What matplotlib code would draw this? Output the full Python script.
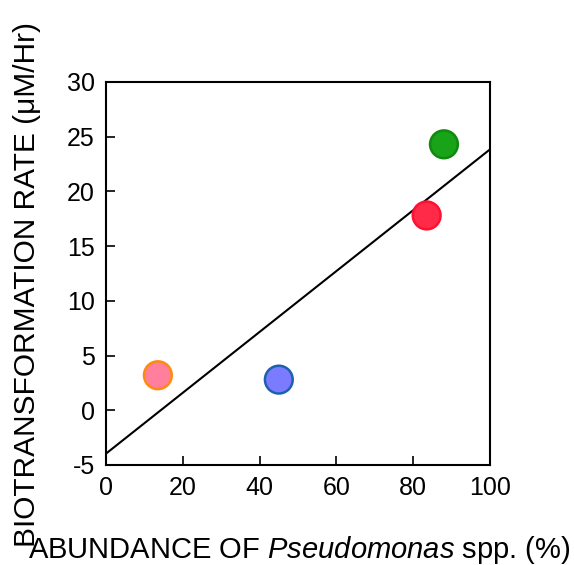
import numpy as np
import matplotlib.pyplot as plt

plt.rcParams['font.family'] = ['Liberation Sans', 'DejaVu Sans']
plt.rcParams['mathtext.fontset'] = 'custom'
plt.rcParams['mathtext.it'] = 'Liberation Sans:italic'
plt.rcParams['mathtext.rm'] = 'Liberation Sans'
plt.rcParams['axes.unicode_minus'] = False

# abundance (%) vs biotransformation rate (uM/Hr)
abundance = [13.5, 45.0, 83.5, 88.0]
rate = [3.2, 2.8, 17.8, 24.3]
face_colors = ['#ff7f9c', '#7b7bff', '#ff2a48', '#18a318']
edge_colors = ['#ff8a10', '#1f5fb0', '#ff1030', '#0f8a0f']

xticks = [0, 20, 40, 60, 80, 100]
yticks = [-5, 0, 5, 10, 15, 20, 25, 30]

fig = plt.figure(figsize=(5.74, 5.65), dpi=100)
ax = fig.add_axes([0.1847, 0.177, 0.669, 0.678])

# least-squares trend line over the full x range
slope, intercept = np.polyfit(abundance, rate, 1)
xs = np.array([0, 100])
ax.plot(xs, slope * xs + intercept, color='black', lw=1.5, zorder=2)

ax.scatter(abundance, rate, s=400, c=face_colors, edgecolors=edge_colors,
           linewidths=1.8, zorder=3)

ax.set_xlim(0, 100)
ax.set_ylim(-5, 30)
ax.set_xticks(xticks)
ax.set_yticks(yticks)
ax.tick_params(direction='in', length=6.5, width=1.2, labelsize=18)
ax.tick_params(axis='x', pad=8)
ax.tick_params(axis='y', pad=8)
for s in ax.spines.values():
    s.set_linewidth(1.5)

fig.text(0.522, 0.027, r'ABUNDANCE OF $\it{Pseudomonas}$ spp. (%)',
         ha='center', va='center', fontsize=21)
fig.text(0.047, 0.496, 'BIOTRANSFORMATION RATE (\u03bcM/Hr)', rotation=90,
         ha='center', va='center', fontsize=21.5)

fig.savefig('out.png', dpi=100)
